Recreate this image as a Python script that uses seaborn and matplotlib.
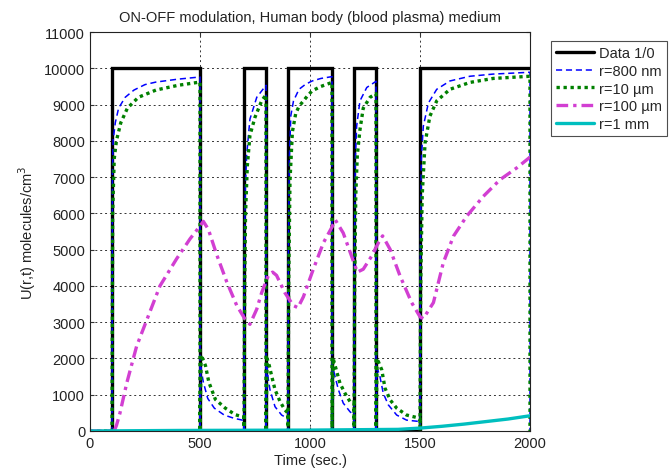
import matplotlib
matplotlib.use("Agg")
import matplotlib.pyplot as plt
import seaborn as sns
import pandas as pd
import numpy as np

# ---------------- data ----------------
t_data = [0, 100, 100, 500, 500, 700, 700, 800, 800, 900, 900, 1100, 1100, 1200, 1200, 1300, 1300, 1500, 1500, 2000]
u_data = [0, 0, 10000, 10000, 0, 0, 10000, 10000, 0, 0, 10000, 10000, 0, 0, 10000, 10000, 0, 0, 10000, 10000]

t_800nm = [0, 100, 100, 102, 105, 115, 130, 160, 200, 250, 300, 400, 500, 500, 504, 508, 515, 535, 565, 610, 655, 700,
           700, 702, 706, 712, 727, 758, 800, 800, 804, 810, 818, 841, 871, 900, 900, 902, 906, 913, 925, 950, 980,
           1010, 1050, 1100, 1100, 1104, 1108, 1114, 1129, 1151, 1182, 1200, 1200, 1202, 1206, 1212, 1227, 1258,
           1300, 1300, 1304, 1310, 1318, 1333, 1356, 1394, 1439, 1500, 1500, 1502, 1506, 1515, 1538, 1576, 1636,
           1727, 1833, 2000, 2000]
u_800nm = [0, 0, 0, 7000, 8000, 8500, 8900, 9200, 9400, 9550, 9620, 9700, 9760, 0, 1750, 1600, 1350, 900, 630, 440, 350, 290,
           0, 5000, 6700, 7600, 8600, 9200, 9530, 0, 1750, 1450, 1140, 670, 440, 340, 0, 5000, 7500, 8700, 9100, 9420, 9560,
           9650, 9720, 9770, 0, 1750, 1650, 1500, 1140, 770, 530, 440, 0, 5000, 7500, 8400, 9100, 9470,
           9640, 0, 1750, 1650, 1500, 1040, 720, 440, 300, 260, 0, 5000, 7500, 8400, 9040, 9420, 9650,
           9780, 9840, 9890, 0]

t_10um = [0, 100, 100, 103, 110, 120, 140, 170, 220, 300, 400, 500, 500, 505, 512, 525, 540, 570, 615, 660, 700,
          700, 703, 707, 715, 727, 750, 780, 800, 800, 805, 815, 826, 841, 864, 886, 900, 900, 903, 909, 920, 935, 950,
          990, 1010, 1050, 1100, 1100, 1105, 1112, 1121, 1136, 1159, 1182, 1200, 1200, 1203, 1208, 1215, 1227, 1242,
          1273, 1300, 1300, 1305, 1315, 1326, 1341, 1364, 1394, 1439, 1500, 1500, 1503, 1510, 1523, 1545, 1576,
          1636, 1727, 1833, 2000, 2000]
u_10um = [0, 0, 0, 6000, 7500, 8000, 8500, 8900, 9200, 9400, 9530, 9620, 0, 2100, 2000, 1800, 1350, 870, 630, 450, 380,
          0, 4000, 6000, 7300, 8150, 8650, 9100, 9270, 0, 2000, 1800, 1510, 1140, 810, 580, 490, 0, 4000, 6900, 8250, 8750, 8950,
          9250, 9380, 9500, 9610, 0, 2000, 1850, 1650, 1320, 1040, 810, 770, 0, 4000, 6500, 7600, 8300, 8900,
          9200, 9300, 0, 2000, 1850, 1690, 1180, 860, 630, 440, 350, 0, 4000, 6500, 7940, 8680, 9100,
          9420, 9610, 9720, 9780, 0]

t_100um = [0, 110, 120, 136, 167, 212, 265, 318, 394, 455, 500, 515, 538, 576, 621, 667, 705, 727, 758, 780, 811, 830,
           848, 886, 924, 945, 970, 1015, 1061, 1098, 1115, 1151, 1189, 1215, 1242, 1280, 1311, 1330, 1364, 1409, 1462,
           1500, 1515, 1561, 1606, 1652, 1712, 1788, 1864, 1939, 2000]
u_100um = [0, 0, 150, 490, 1320, 2340, 3170, 4000, 4750, 5300, 5650, 5780, 5560, 4860, 4120, 3460, 3080, 2940, 3360, 3810, 4290, 4380,
           4290, 3810, 3460, 3400, 3700, 4460, 5190, 5600, 5820, 5460, 4820, 4380, 4460, 4820, 5190, 5380, 5010, 4280, 3540,
           3150, 3100, 3540, 4640, 5370, 5920, 6470, 6930, 7250, 7550]

t_1mm = [0, 400, 1000, 1400, 1500, 1600, 1700, 1800, 1900, 2000]
u_1mm = [0, 15, 25, 45, 80, 130, 190, 260, 330, 420]

labels = ["Data 1/0", "r=800 nm", "r=10 \u00b5m", "r=100 \u00b5m", "r=1 mm"]
x_ticks = [0, 500, 1000, 1500, 2000]
y_ticks = list(range(0, 11001, 1000))

# ---------------- styling ----------------
sns.set_theme(style="white")
plt.rcParams["font.family"] = ["Liberation Sans", "DejaVu Sans"]
plt.rcParams["font.size"] = 10

fig = plt.figure(figsize=(6.70, 4.77), dpi=100)
ax = fig.add_axes([90 / 670, 45 / 477, 440 / 670, 399 / 477])

series = [
    (t_data, u_data, dict(color="black", lw=2.4, ls="-")),
    (t_800nm, u_800nm, dict(color="#0000ff", lw=1.1, ls=(0, (4, 2.5)))),
    (t_10um, u_10um, dict(color="#008000", lw=2.4, ls=(0, (1, 1.1)))),
    (t_100um, u_100um, dict(color="#d23fd2", lw=2.4, ls=(0, (3.5, 1.5, 1, 1.5)))),
    (t_1mm, u_1mm, dict(color="#00bfbf", lw=2.4, ls="-")),
]

for (tt, uu, st), lab in zip(series, labels):
    df = pd.DataFrame({"t": tt, "u": uu})
    sns.lineplot(data=df, x="t", y="u", ax=ax, estimator=None, sort=False,
                 color=st["color"], linewidth=st["lw"], linestyle=st["ls"], label=lab,
                 solid_joinstyle="miter", dash_capstyle="butt")

ax.set_xlim(0, 2000)
ax.set_ylim(0, 11000)
ax.set_xticks(x_ticks)
ax.set_yticks(y_ticks)
ax.set_xticklabels([str(v) for v in x_ticks])
ax.set_yticklabels([str(v) for v in y_ticks])
ax.grid(True, color="#333333", linestyle=(0, (2, 3)), linewidth=0.7)
ax.tick_params(direction="in", length=3, width=0.8, colors="#333333", labelcolor="#222222",
               labelsize=10.5, top=True, right=True, bottom=True, left=True)
for sp in ax.spines.values():
    sp.set_color("#222222")
    sp.set_linewidth(0.8)

ax.set_title("ON-OFF modulation, Human body (blood plasma) medium", fontsize=10.5, color="#222222", pad=8)
ax.set_xlabel("Time (sec.)", fontsize=10.5, color="#222222", labelpad=2)
ax.set_ylabel("U(r,t) molecules/cm$^3$", fontsize=10.5, color="#222222", labelpad=4)

leg = ax.legend(loc="upper left", bbox_to_anchor=(1.048, 0.977), frameon=True, fancybox=False,
                edgecolor="#222222", fontsize=10.5, handlelength=2.6, handletextpad=0.3,
                borderpad=0.35, labelspacing=0.25, borderaxespad=0)
leg.get_frame().set_linewidth(0.8)

fig.savefig("out.png", dpi=100)
